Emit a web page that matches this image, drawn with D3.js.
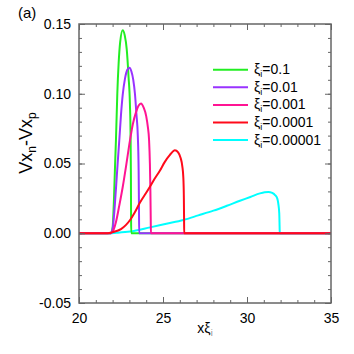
<!DOCTYPE html>
<html><head><meta charset="utf-8">
<script src="https://cdn.jsdelivr.net/npm/d3@7"></script>
<style>
body{margin:0;background:#fff;}
text{font-family:"Liberation Sans",Arial,sans-serif;}
</style></head>
<body><svg id="c" width="354" height="354"></svg>
<script>
const labels = ["0.1","0.01","0.001","0.0001","0.00001"];
const colors = ["#22ee22","#9933ff","#ff1493","#ff0a1a","#00ffff"];
const xTicks = [20,25,30,35];
const yTicks = [-0.05,0.00,0.05,0.10,0.15];
const yTickLabels = ["-0.05","0.00","0.05","0.10","0.15"];

const xGreen = [20,21.9,22.0,22.08,22.15,22.2,22.28,22.36,22.45,22.6,22.72,22.84,22.95,23.03,23.07,23.09,23.1,23.11,35];
const yGreen = [0,0,0.004,0.024,0.05,0.067,0.1,0.122,0.137,0.1455,0.142,0.132,0.112,0.093,0.07,0.04,0.01,0,0];

const xPurple = [20,21.9,22.0,22.1,22.2,22.3,22.4,22.5,22.6,22.74,22.87,23.0,23.12,23.23,23.33,23.42,23.5,23.55,23.57,23.58,35];
const yPurple = [0,0,0.003,0.015,0.032,0.05,0.067,0.085,0.099,0.111,0.117,0.1187,0.116,0.110,0.100,0.085,0.07,0.045,0.02,0,0];

const xMagenta = [20,21.85,22.0,22.2,22.4,22.6,22.8,23.0,23.2,23.4,23.55,23.69,23.85,24.0,24.1,24.17,24.22,24.25,24.27,24.28,35];
const yMagenta = [0,0,0.001,0.008,0.02,0.033,0.048,0.064,0.078,0.087,0.0915,0.093,0.09,0.084,0.076,0.067,0.05,0.03,0.01,0,0];

const xRed = [20,21.7,22.0,22.5,22.8,23.04,23.3,23.63,24.0,24.23,24.5,24.82,25.1,25.4,25.71,25.9,26.05,26.15,26.21,26.24,26.255,26.26,35];
const yRed = [0,0,0.0008,0.003,0.006,0.0095,0.0145,0.022,0.029,0.0335,0.039,0.045,0.051,0.056,0.0595,0.058,0.054,0.048,0.04,0.027,0.01,0,0];

const xCyan = [20,21.8,22.2,23.04,24.23,25.2,26.21,27.1,28.0,28.8,29.58,30.2,30.77,31.05,31.27,31.5,31.67,31.8,31.86,31.92,31.94,31.95,35];
const yCyan = [0,0,0.0003,0.0012,0.0042,0.0068,0.0095,0.0128,0.0162,0.0197,0.0233,0.026,0.0286,0.0294,0.0296,0.0289,0.0274,0.025,0.0215,0.0143,0.005,0,0];

const seriesX = [xGreen,xPurple,xMagenta,xRed,xCyan];
const seriesY = [yGreen,yPurple,yMagenta,yRed,yCyan];
const drawOrder = [4,0,1,2,3];

const svg = d3.select("#c");
const L=79,R=331,T=24,B=303;
const x = d3.scaleLinear().domain([20,35]).range([L,R]);
const y = d3.scaleLinear().domain([-0.05,0.15]).range([B,T]);

const line = d3.line().x(d=>x(d[0])).y(d=>y(d[1])).curve(d3.curveMonotoneX);
drawOrder.forEach(i=>{
  const pts = seriesX[i].map((v,k)=>[v,seriesY[i][k]]);
  svg.append("path").attr("d",line(pts)).attr("fill","none")
    .attr("stroke",colors[i]).attr("stroke-width",2);
});

const axCol = "#666";
function styleAxis(g){
  g.select(".domain").remove();
  g.selectAll(".tick line").attr("stroke",axCol).attr("stroke-width",1);
  g.selectAll(".tick text").attr("fill","#000").attr("font-size",14)
   .attr("font-family","Liberation Sans, Arial, sans-serif");
}
const xMinor = d3.range(20,35.01,1);
const yMinor = d3.range(-0.05,0.1501,0.01);
// bottom
svg.append("g").attr("transform",`translate(0,${B})`)
  .call(d3.axisBottom(x).tickValues(xMinor).tickFormat("").tickSizeInner(-3).tickSizeOuter(0)).call(styleAxis);
svg.append("g").attr("transform",`translate(0,${B})`)
  .call(d3.axisBottom(x).tickValues(xTicks).tickFormat(d3.format("d")).tickSizeInner(-6).tickSizeOuter(0).tickPadding(10)).call(styleAxis);
// top
svg.append("g").attr("transform",`translate(0,${T})`)
  .call(d3.axisTop(x).tickValues(xMinor).tickFormat("").tickSizeInner(-3).tickSizeOuter(0)).call(styleAxis);
svg.append("g").attr("transform",`translate(0,${T})`)
  .call(d3.axisTop(x).tickValues(xTicks).tickFormat("").tickSizeInner(-6).tickSizeOuter(0)).call(styleAxis);
// left
svg.append("g").attr("transform",`translate(${L},0)`)
  .call(d3.axisLeft(y).tickValues(yMinor).tickFormat("").tickSizeInner(-3).tickSizeOuter(0)).call(styleAxis);
svg.append("g").attr("transform",`translate(${L},0)`)
  .call(d3.axisLeft(y).tickValues(yTicks).tickFormat((d,i)=>yTickLabels[i]).tickSizeInner(-6).tickSizeOuter(0).tickPadding(8)).call(styleAxis);
// right
svg.append("g").attr("transform",`translate(${R},0)`)
  .call(d3.axisRight(y).tickValues(yMinor).tickFormat("").tickSizeInner(-3).tickSizeOuter(0)).call(styleAxis);
svg.append("g").attr("transform",`translate(${R},0)`)
  .call(d3.axisRight(y).tickValues(yTicks).tickFormat("").tickSizeInner(-6).tickSizeOuter(0)).call(styleAxis);

svg.append("rect").attr("x",L).attr("y",T).attr("width",R-L).attr("height",B-T)
  .attr("fill","none").attr("stroke",axCol).attr("stroke-width",1.5);

// legend
labels.forEach((lab,i)=>{
  const ly = 69.7 + i*17.6;
  svg.append("line").attr("x1",213).attr("x2",248).attr("y1",ly).attr("y2",ly)
    .attr("stroke",colors[i]).attr("stroke-width",2);
  const t = svg.append("text").attr("x",254).attr("y",ly+4.5).attr("font-size",14);
  t.append("tspan").text("ξ");
  t.append("tspan").attr("font-size",9).attr("dy",3).text("i");
  t.append("tspan").attr("dy",-3).text("="+lab);
});

// titles
svg.append("text").attr("x",18).attr("y",18).attr("font-size",15).text("(a)");
const xl = svg.append("text").attr("x",(L+R)/2).attr("y",333).attr("text-anchor","middle").attr("font-size",14);
xl.append("tspan").text("xξ");
xl.append("tspan").attr("font-size",9).attr("dy",3).attr("fill","#888").text("i");

const yl = svg.append("text").attr("transform","translate(32,143) rotate(-90)")
  .attr("text-anchor","middle").attr("font-size",18);
yl.append("tspan").text("Vx");
yl.append("tspan").attr("font-size",12).attr("dy",4).text("n");
yl.append("tspan").attr("dy",-4).text("-Vx");
yl.append("tspan").attr("font-size",12).attr("dy",4).text("p");
</script></body></html>
